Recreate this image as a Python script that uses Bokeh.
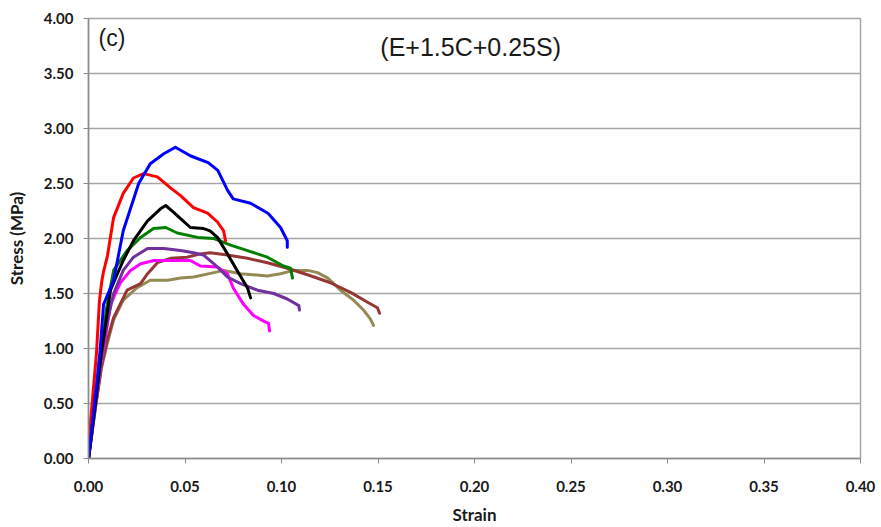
from bokeh.plotting import figure
from bokeh.models import Range1d, FixedTicker, NumeralTickFormatter, Label
from bokeh.embed import file_html
from bokeh.resources import INLINE

# ---- data ----
blue_strain = [0, 0.002, 0.004, 0.006, 0.0078, 0.013, 0.018, 0.026, 0.032, 0.039, 0.045, 0.053, 0.062, 0.067, 0.072, 0.075, 0.084, 0.093, 0.0995, 0.103, 0.103]
blue_stress = [0, 0.32, 0.64, 0.98, 1.40, 1.62, 2.07, 2.50, 2.68, 2.77, 2.83, 2.75, 2.69, 2.62, 2.44, 2.36, 2.32, 2.23, 2.10, 1.98, 1.92]

red_strain = [0, 0.0005, 0.0041, 0.0057, 0.0068, 0.0078, 0.0098, 0.013, 0.018, 0.0233, 0.0285, 0.0357, 0.0425, 0.0477, 0.0544, 0.0617, 0.0668, 0.070, 0.071]
red_stress = [0, 0.22, 0.95, 1.44, 1.60, 1.70, 1.84, 2.19, 2.41, 2.55, 2.59, 2.56, 2.46, 2.39, 2.28, 2.23, 2.15, 2.07, 1.98]

black_strain = [0, 0.0034, 0.0067, 0.0114, 0.015, 0.018, 0.0233, 0.0306, 0.0373, 0.040, 0.044, 0.0477, 0.0528, 0.0596, 0.063, 0.0668, 0.072, 0.077, 0.0824, 0.084]
black_stress = [0, 0.48, 0.96, 1.53, 1.68, 1.80, 1.98, 2.16, 2.27, 2.30, 2.24, 2.18, 2.10, 2.09, 2.07, 2.01, 1.86, 1.71, 1.55, 1.46]

green_strain = [0, 0.0034, 0.0067, 0.0092, 0.013, 0.020, 0.027, 0.0337, 0.040, 0.046, 0.0565, 0.065, 0.0736, 0.0824, 0.0927, 0.101, 0.1047, 0.1057]
green_stress = [0, 0.47, 0.95, 1.35, 1.71, 1.89, 2.01, 2.09, 2.10, 2.05, 2.01, 2.00, 1.94, 1.89, 1.83, 1.75, 1.73, 1.64]

purple_strain = [0, 0.0034, 0.0067, 0.0095, 0.013, 0.018, 0.0233, 0.0306, 0.039, 0.0477, 0.0544, 0.0596, 0.065, 0.072, 0.0788, 0.0876, 0.096, 0.103, 0.109, 0.1093]
purple_stress = [0, 0.47, 0.93, 1.22, 1.50, 1.71, 1.83, 1.91, 1.91, 1.89, 1.87, 1.85, 1.77, 1.65, 1.59, 1.53, 1.50, 1.45, 1.39, 1.35]

magenta_strain = [0, 0.0034, 0.0067, 0.0092, 0.0114, 0.0166, 0.0218, 0.027, 0.034, 0.044, 0.0528, 0.058, 0.0668, 0.072, 0.075, 0.080, 0.0855, 0.0917, 0.0933, 0.0938]
magenta_stress = [0, 0.45, 0.88, 1.15, 1.40, 1.60, 1.71, 1.77, 1.80, 1.80, 1.80, 1.75, 1.74, 1.68, 1.55, 1.41, 1.30, 1.24, 1.23, 1.16]

brown_strain = [0, 0.0034, 0.0067, 0.0098, 0.013, 0.020, 0.027, 0.0306, 0.0357, 0.0425, 0.051, 0.058, 0.063, 0.072, 0.0824, 0.0927, 0.103, 0.1135, 0.125, 0.1358, 0.1446, 0.1497, 0.1508]
brown_stress = [0, 0.44, 0.84, 1.08, 1.28, 1.53, 1.59, 1.68, 1.78, 1.82, 1.83, 1.86, 1.87, 1.85, 1.82, 1.78, 1.73, 1.67, 1.60, 1.51, 1.42, 1.37, 1.32]

olive_strain = [0, 0.0034, 0.0067, 0.0098, 0.013, 0.018, 0.025, 0.032, 0.041, 0.0477, 0.0544, 0.065, 0.070, 0.0788, 0.0927, 0.0995, 0.1062, 0.1135, 0.1187, 0.124, 0.1306, 0.1373, 0.1425, 0.146, 0.1477]
olive_stress = [0, 0.44, 0.82, 1.05, 1.26, 1.44, 1.55, 1.62, 1.62, 1.64, 1.65, 1.69, 1.71, 1.68, 1.66, 1.68, 1.71, 1.71, 1.69, 1.64, 1.53, 1.44, 1.35, 1.27, 1.21]

x_ticks = [0.0, 0.05, 0.10, 0.15, 0.20, 0.25, 0.30, 0.35, 0.40]
y_ticks = [0.0, 0.5, 1.0, 1.5, 2.0, 2.5, 3.0, 3.5, 4.0]

series = [
    (olive_strain, olive_stress, "#948A54"),
    (brown_strain, brown_stress, "#953735"),
    (magenta_strain, magenta_stress, "#FF00FF"),
    (purple_strain, purple_stress, "#7030A0"),
    (green_strain, green_stress, "#008000"),
    (black_strain, black_stress, "#000000"),
    (red_strain, red_stress, "#FF0000"),
    (blue_strain, blue_stress, "#0000FF"),
]

FONT = "Lato"

p = figure(width=881, height=527, output_backend="svg", toolbar_location=None,
           x_range=Range1d(0, 0.4), y_range=Range1d(0, 4))
p.min_border_left = 88
p.min_border_right = 21
p.min_border_top = 18
p.min_border_bottom = 69
p.outline_line_color = "#A6A6A6"
p.outline_line_width = 1.5
p.background_fill_color = "white"
p.border_fill_color = "white"

for xs, ys, c in series:
    p.line(xs, ys, line_color=c, line_width=3, line_join="round", line_cap="round")

p.xaxis.ticker = FixedTicker(ticks=x_ticks)
p.yaxis.ticker = FixedTicker(ticks=y_ticks)
p.xaxis.formatter = NumeralTickFormatter(format="0.00")
p.yaxis.formatter = NumeralTickFormatter(format="0.00")

for ax in (p.xaxis[0], p.yaxis[0]):
    ax.axis_line_color = "#8C8C8C"
    ax.axis_line_width = 1.5
    ax.major_tick_line_color = "#8C8C8C"
    ax.major_tick_out = 5
    ax.major_tick_in = 0
    ax.minor_tick_line_color = None
    ax.major_label_text_font = FONT
    ax.major_label_text_font_style = "bold"
    ax.major_label_text_font_size = "15px"
    ax.major_label_text_color = "#1a1a1a"
    ax.axis_label_text_font = FONT
    ax.axis_label_text_font_style = "bold"
    ax.axis_label_text_font_size = "17px"
    ax.axis_label_text_color = "#1a1a1a"

p.xaxis.axis_label = "Strain"
p.yaxis.axis_label = "Stress (MPa)"
p.xaxis.major_label_standoff = 17
p.xaxis.axis_label_standoff = 9
p.yaxis.major_label_standoff = 10
p.yaxis.axis_label_standoff = 14

p.xgrid.grid_line_color = None
p.ygrid.grid_line_color = "#A6A6A6"
p.ygrid.grid_line_width = 1.5

p.add_layout(Label(x=0.0052, y=3.82, text="(c)", text_font="Liberation Sans",
                   text_font_size="23px", text_color="#1a1a1a", text_baseline="middle"))
p.add_layout(Label(x=0.198, y=3.745, text="(E+1.5C+0.25S)", text_font="Liberation Sans",
                   text_font_size="25px", text_color="#1a1a1a", text_align="center",
                   text_baseline="middle"))

open("out.html", "w").write(file_html(p, INLINE))
